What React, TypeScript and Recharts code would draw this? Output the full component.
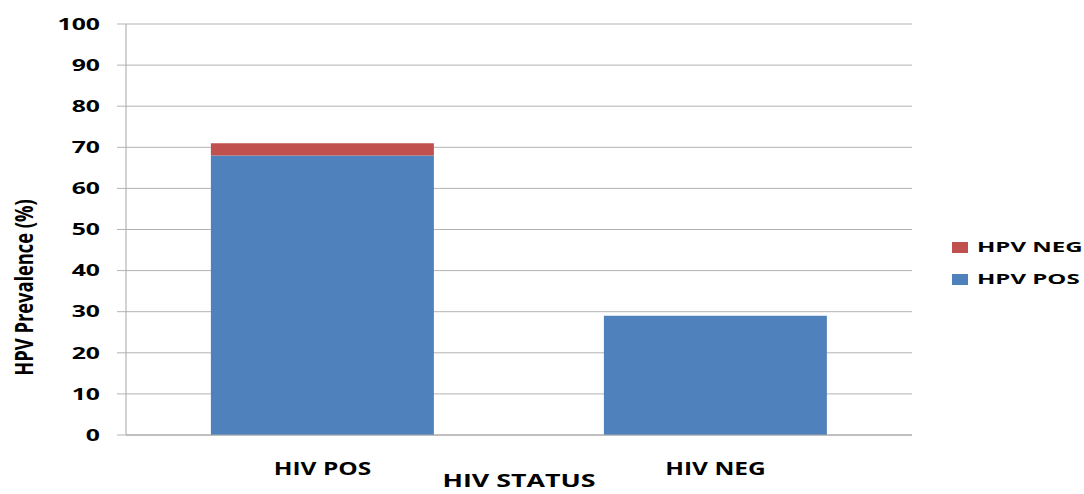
import { BarChart, Bar, XAxis, YAxis, CartesianGrid, Legend } from "recharts";

const categories = ["HIV POS", "HIV NEG"];
const hpvPos = [68, 29];
const hpvNeg = [3, 0];
const yTicks = [0, 10, 20, 30, 40, 50, 60, 70, 80, 90, 100];

const data = categories.map((status, i) => ({
    status,
    hpvPos: hpvPos[i],
    hpvNeg: hpvNeg[i],
}));

const FONT = "'Open Sans', sans-serif";
const GRID = "#B3B3B3";

// the original picture is stretched sideways, so text gets a scaleX
function YTick(props: any) {
    const { x, y, payload } = props;
    return (
        <text
            transform={`translate(${x},${y}) scale(1.55,1)`}
            textAnchor="end"
            dy="0.36em"
            fontFamily={FONT}
            fontWeight={700}
            fontSize={16}
            fill="#000">
            {payload.value}
        </text>
    );
}

function XTick(props: any) {
    const { x, y, payload } = props;
    return (
        <text
            transform={`translate(${x},${y + 38}) scale(1.4,1)`}
            textAnchor="middle"
            fontFamily={FONT}
            fontWeight={700}
            fontSize={17.5}
            fill="#000">
            {payload.value}
        </text>
    );
}

function renderYLabel(props: any) {
    const vb = props.viewBox;
    return (
        <text
            transform={`translate(${vb.x + 33},${vb.y + vb.height / 2 + 58}) rotate(-90) scale(1,1.4)`}
            textAnchor="middle"
            fontFamily={FONT}
            fontWeight={700}
            fontSize={18.3}
            fill="#000">
            HPV Prevalence (%)
        </text>
    );
}

function renderXLabel(props: any) {
    const vb = props.viewBox;
    return (
        <text
            transform={`translate(${vb.x + vb.width / 2},${vb.y + 52}) scale(1.45,1)`}
            textAnchor="middle"
            fontFamily={FONT}
            fontWeight={700}
            fontSize={18.5}
            fill="#000">
            HIV STATUS
        </text>
    );
}

function renderLegend(props: any) {
    // payload already comes top series first for the stack
    const items = props.payload || [];
    return (
        <svg width={139} height={64}>
            {items.map((item: any, i: number) => (
                <g key={item.value}>
                    <rect x={7} y={10 + i * 32} width={16} height={11} fill={item.color} />
                    <text
                        transform={`translate(32,${20 + i * 32}) scale(1.6,1)`}
                        fontFamily={FONT}
                        fontWeight={700}
                        fontSize={15}
                        fill="#000">
                        {item.value}
                    </text>
                </g>
            ))}
        </svg>
    );
}

function App(): JSX.Element {
    return (
        <div style={{ position: "absolute", left: 0, top: 0 }}>
            <BarChart
                width={1084}
                height={494}
                data={data}
                barCategoryGap="21.6%"
                margin={{ top: 24, right: 172, left: 0, bottom: 0 }}>

                <CartesianGrid vertical={false} stroke={GRID} />
                <XAxis
                    dataKey="status"
                    height={59}
                    tickLine={false}
                    tickSize={0}
                    axisLine={{ stroke: "#A6A6A6" }}
                    tick={<XTick />}
                    label={{ content: renderXLabel }} />
                <YAxis
                    width={126}
                    domain={[0, 100]}
                    ticks={yTicks}
                    interval={0}
                    tickSize={9}
                    tickMargin={17}
                    axisLine={{ stroke: "#A6A6A6" }}
                    tickLine={{ stroke: GRID }}
                    tick={<YTick />}
                    label={{ content: renderYLabel }} />
                <Legend
                    layout="vertical"
                    align="center"
                    verticalAlign="middle"
                    wrapperStyle={{ left: 945, top: 232, width: 139, height: 64 }}
                    content={renderLegend} />
                <Bar dataKey="hpvPos" name="HPV POS" stackId="a" fill="#4F81BD" isAnimationActive={false} />
                <Bar dataKey="hpvNeg" name="HPV NEG" stackId="a" fill="#C0504D" isAnimationActive={false} />

            </BarChart>
        </div>
    );
}

export default App;
